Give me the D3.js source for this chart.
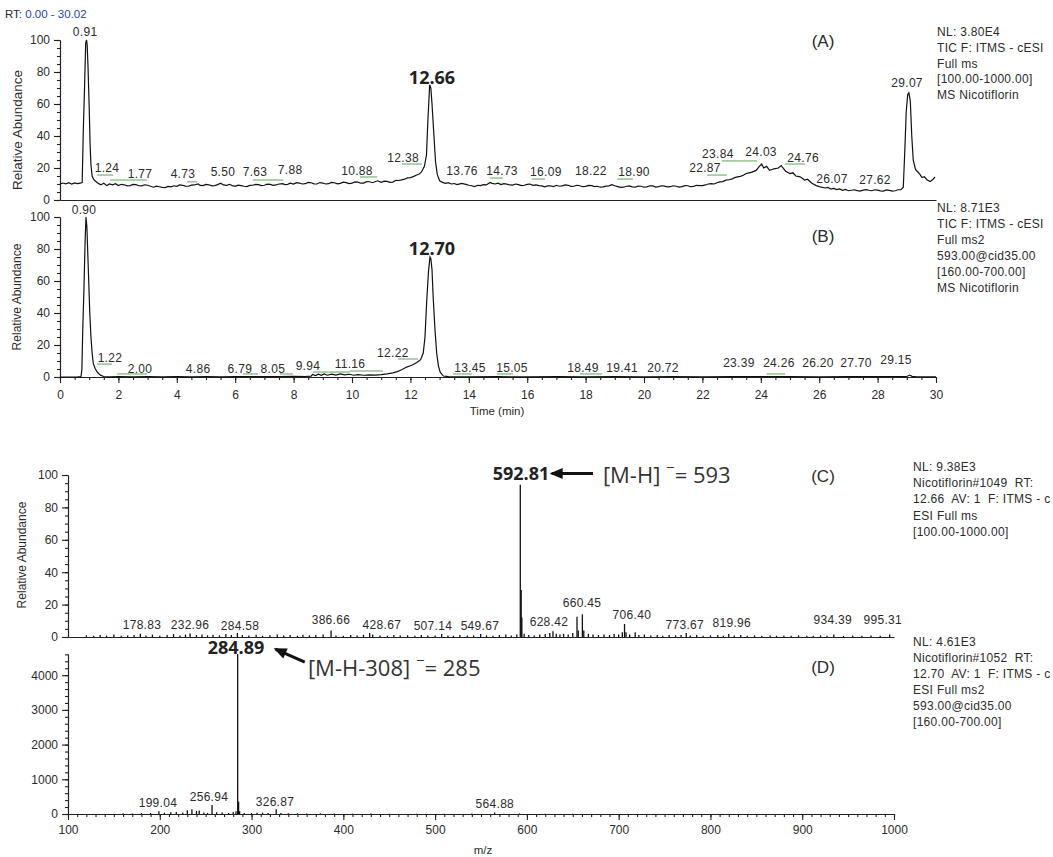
<!DOCTYPE html>
<html><head><meta charset="utf-8">
<script src="https://cdn.jsdelivr.net/npm/d3@7"></script>
<style>
body{margin:0;background:#fff}
svg{display:block}
text{font-family:"Liberation Sans",Arial,sans-serif;fill:#2b2b2b}
.bold{font-family:"Open Sans",sans-serif;font-weight:bold;fill:#222}
.ann{font-family:"Open Sans",sans-serif;fill:#333}
</style>
</head><body>
<svg id="chart" width="1053" height="857"></svg>
<script>
// ---------------- DATA ----------------
// (A) TIC chromatogram, full MS : [time (min), relative abundance]
const traceA = [[0,10],[0.1,10.6],[0.2,10.1],[0.3,10.8],[0.4,10],[0.5,10.7],[0.6,10.2],[0.7,10.5],[0.76,11],[0.8,45],[0.84,70],[0.88,98],[0.91,100],[0.93,97],[0.96,83],[1.0,58],[1.03,35],[1.06,22],[1.1,15],[1.15,13],[1.2,12],[1.3,10.5],[1.4,9.5],[1.5,10.5],[1.6,9],[1.7,10],[1.8,9.5],[1.9,10.2],[2.0,9],[2.1,9.8],[2.2,9.5],[2.3,8.8],[2.4,9],[2.5,9.7],[2.6,9.6],[2.7,8.9],[2.8,8.8],[2.9,9.5],[3.0,9.2],[3.1,8.6],[3.2,8],[3.3,8.7],[3.4,8.3],[3.5,7.9],[3.6,7.8],[3.7,8.5],[3.8,8.2],[3.9,8.9],[4.0,8.5],[4.1,9.4],[4.2,9.2],[4.3,8.7],[4.4,8.6],[4.5,9.3],[4.6,9.4],[4.73,10],[4.8,9.1],[4.9,9],[5.0,9.7],[5.1,9.5],[5.2,8.8],[5.3,9],[5.4,9.6],[5.5,10.5],[5.6,9.4],[5.7,9.1],[5.8,9.8],[5.9,9.0],[6.0,8.5],[6.1,9.3],[6.2,9],[6.3,8.6],[6.4,8.4],[6.5,9.1],[6.6,9.2],[6.7,9.8],[6.8,9.6],[6.9,9.0],[7.0,9.2],[7.1,9.9],[7.2,9.8],[7.3,9.2],[7.4,9.4],[7.5,10.0],[7.63,10.2],[7.7,9.6],[7.8,9.8],[7.88,10.5],[8.0,10],[8.1,10.8],[8.2,10.6],[8.3,10.0],[8.4,10.2],[8.5,11.0],[8.6,10.8],[8.7,10.1],[8.8,10],[8.9,10.9],[9.0,10.6],[9.1,10.0],[9.2,10.2],[9.3,11.0],[9.4,10.8],[9.5,10.1],[9.6,10.4],[9.7,11.2],[9.8,10.9],[9.9,10.3],[10.0,10.5],[10.1,11.3],[10.2,11.2],[10.3,10.5],[10.4,10.6],[10.5,11.5],[10.6,11.4],[10.7,10.8],[10.88,12],[11.0,11],[11.1,11.8],[11.2,11.6],[11.3,11.0],[11.4,11.2],[11.5,12.3],[11.6,12.2],[11.7,12.6],[11.8,13],[11.9,13.8],[12.0,14],[12.1,14.6],[12.2,15.5],[12.3,16.2],[12.38,17.5],[12.48,21],[12.55,28],[12.6,50],[12.66,72],[12.7,70],[12.74,60],[12.8,42],[12.86,24],[12.92,16],[13.0,12],[13.1,11],[13.2,10.4],[13.3,10.8],[13.4,10],[13.5,10.3],[13.6,9.6],[13.76,10.4],[13.9,9.8],[14.0,9.2],[14.1,8.9],[14.2,8.4],[14.3,9.2],[14.4,9],[14.5,9.6],[14.6,9.4],[14.73,11],[14.8,10.4],[14.9,10],[15.0,10.5],[15.1,9.6],[15.2,10.2],[15.3,9.9],[15.4,9.4],[15.5,9.3],[15.6,10.0],[15.7,9.6],[15.8,9.0],[15.9,9.2],[16.0,9.8],[16.09,10],[16.2,9.2],[16.3,9.4],[16.4,9.0],[16.5,8.8],[16.6,8.2],[16.7,8.8],[16.8,8.9],[16.9,8.4],[17.0,9.2],[17.1,8.6],[17.2,8.8],[17.3,9.4],[17.4,9.2],[17.5,8.5],[17.6,8.6],[17.7,9.2],[17.8,8.9],[17.9,8.3],[18.0,8.5],[18.1,9.1],[18.22,9],[18.3,8.4],[18.4,8.6],[18.5,8.0],[18.6,8.2],[18.7,8.7],[18.8,8.8],[18.9,9.6],[19.0,8.9],[19.1,8.4],[19.2,7.9],[19.3,8],[19.4,8.6],[19.5,8.8],[19.6,8.2],[19.7,8],[19.8,8.7],[19.9,8.6],[20.0,8.0],[20.1,8.2],[20.2,8.9],[20.3,8.8],[20.4,8.1],[20.5,8.4],[20.6,8.9],[20.7,8.7],[20.8,8.2],[20.9,8.3],[21.0,8.9],[21.1,8.6],[21.2,8.1],[21.3,8.4],[21.4,9.0],[21.5,8.9],[21.6,8.3],[21.7,8.5],[21.8,9.2],[21.9,9],[22.0,9.0],[22.1,9.4],[22.2,10.0],[22.3,10.2],[22.4,10.0],[22.5,10.8],[22.6,11.3],[22.7,11.5],[22.8,12.4],[22.87,12.5],[22.95,12.8],[23.0,13],[23.1,14.0],[23.2,14.5],[23.3,14.8],[23.4,15.5],[23.5,16.6],[23.6,17],[23.7,17.4],[23.84,18.5],[23.95,21],[24.03,22.5],[24.1,20],[24.2,21],[24.3,18.5],[24.45,19.5],[24.6,20],[24.7,21.5],[24.76,20],[24.85,18],[25.0,16.5],[25.1,17],[25.2,15],[25.35,14.5],[25.5,12.5],[25.6,13],[25.75,10.5],[25.9,9],[26.07,8],[26.2,7.5],[26.3,7.9],[26.4,6.8],[26.5,7.2],[26.6,6.5],[26.7,6.9],[26.8,6],[26.9,6.6],[27.0,5.8],[27.1,6.1],[27.2,6.4],[27.3,5.9],[27.4,5.6],[27.5,6.2],[27.62,6.5],[27.7,6.1],[27.8,5.8],[27.9,6.4],[28.0,6.2],[28.1,5.7],[28.2,5.6],[28.3,6.3],[28.4,6],[28.5,5.5],[28.6,5.8],[28.7,6.4],[28.8,6.5],[28.88,8],[28.93,30],[28.98,55],[29.03,66],[29.07,67],[29.12,62],[29.17,40],[29.22,25],[29.3,19],[29.38,17.5],[29.45,16],[29.52,14],[29.6,14.5],[29.7,12.5],[29.8,11.5],[29.9,13],[29.97,14.5]];

// (B) TIC chromatogram, MS2 593 -> : [time (min), relative abundance]
const traceB = [[0,0],[0.3,0],[0.6,0.1],[0.72,0.3],[0.75,5],[0.78,30],[0.82,55],[0.86,85],[0.89,100],[0.92,94],[0.95,78],[0.98,62],[1.02,40],[1.06,25],[1.1,15],[1.14,8.5],[1.2,5.5],[1.26,3.5],[1.32,2.2],[1.4,1],[1.5,0.3],[1.7,0.1],[2.0,0.2],[2.5,0.1],[3.0,0.2],[3.5,0.1],[4.0,0.2],[4.5,0.1],[5.0,0.3],[5.5,0.1],[6.0,0.2],[6.5,0.3],[7.0,0.2],[7.5,0.3],[8.0,0.4],[8.4,0.3],[8.6,0.5],[8.65,1.6],[8.75,0.9],[8.85,1.8],[8.95,1.0],[9.05,1.9],[9.15,1.1],[9.3,1.8],[9.45,1.2],[9.6,1.9],[9.75,1.3],[9.9,1.7],[10.05,1.1],[10.2,1.5],[10.4,1.1],[10.6,1.3],[10.8,1.2],[11.0,1.5],[11.2,2.0],[11.4,2.6],[11.55,3.4],[11.7,4.5],[11.87,6.2],[12.0,7.0],[12.1,7.8],[12.22,9.0],[12.35,10.8],[12.44,15],[12.5,25],[12.56,48],[12.62,66],[12.67,75],[12.7,74],[12.74,67],[12.78,50],[12.84,30],[12.9,15],[12.96,7],[13.02,3],[13.13,0.6],[13.3,0.2],[14,0.1],[15,0.2],[16,0.1],[17,0.2],[18,0.1],[19,0.2],[20,0.1],[21,0.2],[22,0.1],[23,0.2],[24,0.3],[25,0.2],[26,0.1],[27,0.2],[28,0.2],[29,0.3],[29.1,1.2],[29.18,0.4],[29.3,0.2],[30,0.1]];

// peak labels: [text, label centre time, label level (rel. abundance)]
const labelsA = [["0.91",0.86,102.5],["1.24",1.61,17.5],["1.77",2.74,13.75],["4.73",4.21,13.75],["5.50",5.58,15],["7.63",6.68,15],["7.88",7.88,16.25],["10.88",10.17,15.6],["12.38",11.75,23.75],["13.76",13.77,15.6],["14.73",15.14,15.6],["16.09",16.64,15],["18.22",18.18,15.6],["18.90",19.66,15],["22.87",22.09,17.5],["23.84",22.53,26.25],["24.03",24.01,27.5],["24.76",25.45,23.75],["26.07",26.44,10.6],["27.62",27.91,10],["29.07",29.01,70.6]];
const labelsB = [["0.90",0.82,101.9],["1.22",1.71,9.4],["2.00",2.74,2.5],["4.86",4.73,2.5],["6.79",6.16,2.5],["8.05",7.29,2.5],["9.94",8.49,4.4],["11.16",9.93,5.6],["12.22",11.4,12.5],["13.45",14.04,3.1],["15.05",15.48,3.1],["18.49",17.91,3.1],["19.41",19.25,3.1],["20.72",20.65,3.1],["23.39",23.25,6.25],["24.26",24.62,6.25],["26.20",25.96,6.25],["27.70",27.26,6.25],["29.15",28.63,8.1]];
const mainA = ["12.66",12.74,72.5];
const mainB = ["12.70",12.74,76.25];

// green peak markers: [start time, end time, level]
const marksA = [[1.27,1.82,15.6],[1.71,2.98,12.5],[4.35,4.69,11.3],[6.61,7.64,12.5],[10.27,10.86,14.4],[11.71,12.4,22.5],[14.73,15.17,13.75],[16.16,16.61,13.1],[19.08,19.62,13.1],[22.16,22.84,15.6],[22.67,23.87,24.4],[24.83,25.51,22.5]];
const marksB = [[1.27,1.78,8.1],[1.95,2.98,1.9],[6.27,6.78,1.9],[7.53,7.98,1.9],[8.66,9.93,3.1],[9.93,11.06,3.75],[11.58,12.26,11.25],[13.46,14.11,1.9],[14.97,15.51,1.9],[17.8,18.56,1.9],[24.2,24.83,1.9]];

// (C) full MS spectrum at 12.66 min : [m/z, relative abundance]
const specC = [[120,1],[128,0.8],[135,1.2],[142,0.8],[150,1.5],[158,0.7],[165,1],[172,1.3],[178.83,2],[185,1],[192,1.5],[200,0.8],[208,1.2],[215,1.8],[222,1],[228,1.5],[232.96,2.2],[240,1.2],[246,1.6],[252,1],[258,1.4],[265,1],[272,1.8],[278,1.2],[284.58,2.5],[290,1.2],[297,1],[305,1.4],[312,0.8],[320,1.1],[328,1.5],[335,0.9],[342,1.2],[350,0.8],[356,1.4],[363,1],[370,1.2],[378,1.5],[386.66,4],[392,1],[400,0.8],[408,1.2],[415,0.9],[422,1.4],[428.67,2.5],[432,1.5],[440,1],[448,0.8],[455,1.2],[462,0.9],[470,1.1],[478,0.8],[485,1.3],[492,0.9],[500,1],[507.14,1.8],[514,1],[520,0.8],[527,1.2],[535,0.9],[542,1],[549.67,1.8],[556,1],[563,0.8],[570,1.2],[577,1.5],[583,0.9],[589,1.5],[592.81,94],[593.8,29],[594.5,12],[597,2],[602,1.2],[608,1],[614,1.5],[620,1.8],[625,2.5],[628.42,3.5],[632,2],[636,1.5],[640,2],[645,1.5],[650,2.5],[654.6,12.5],[656,4],[660.45,14],[662,4],[667,2],[672,1.5],[678,1.2],[684,1.5],[690,1.2],[695,1.8],[700,1.5],[704,3],[706.4,8],[708,3],[712,1.5],[718,3],[722,1.2],[728,1.5],[735,1],[742,1.2],[748,0.8],[755,1.3],[762,1],[768,1.2],[773.67,2.5],[778,1],[785,1.3],[792,0.8],[800,1],[808,1.2],[814,0.8],[819.96,1.8],[826,0.9],[833,1.2],[840,0.8],[848,1],[856,0.7],[865,1],[872,0.8],[880,0.9],[888,0.7],[896,1],[905,0.8],[912,0.7],[920,1],[927,0.8],[934.39,1.5],[945,0.7],[955,1],[965,0.8],[975,1],[985,0.7],[995.31,1.5]];
const labelsC = [["178.83",180.6,4.9],["232.96",232.9,4.9],["284.58",287.4,4.3],["386.66",386.5,8],["428.67",442,4.9],["507.14",497.6,4.3],["549.67",548.8,4.3],["628.42",624,6.8],["660.45",660,18.5],["706.40",714.4,11.1],["773.67",772,4.9],["819.96",823.3,6.2],["934.39",933.3,8],["995.31",987.8,8]];
const mainC = ["592.81",593.5,97];

// (D) MS2 spectrum of 593 at 12.70 min : [m/z, intensity]
const specD = [[160,20],[170,15],[180,25],[190,30],[199.04,80],[205,40],[212,50],[218,60],[225,45],[230,110],[235,140],[240,90],[243,100],[248,40],[252,30],[256.94,260],[262,50],[268,40],[275,30],[280,60],[283,80],[284.89,4610],[285.9,355],[287,80],[292,30],[300,25],[306,35],[312,40],[318,30],[326.87,140],[332,30],[340,25],[350,20],[360,15],[375,20],[390,15],[410,10],[430,12],[450,10],[480,8],[510,10],[540,12],[564.88,40],[575,10],[592,15],[620,8],[650,6]];
const labelsD = [["199.04",198,202],["256.94",253.6,375],["326.87",325.5,230],["564.88",565.1,173]];
const mainD = ["284.89",283,4610];

// tick values
const relTicks = [0,20,40,60,80,100];
const timeTicks = [0,2,4,6,8,10,12,14,16,18,20,22,24,26,28,30];
const mzTicks = [100,200,300,400,500,600,700,800,900,1000];
const intTicks = [0,1000,2000,3000,4000];

// header texts
const infoA = ["NL: 3.80E4","TIC F: ITMS - cESI","Full ms","[100.00-1000.00]","MS Nicotiflorin"];
const infoB = ["NL: 8.71E3","TIC F: ITMS - cESI","Full ms2","593.00@cid35.00","[160.00-700.00]","MS Nicotiflorin"];
const infoC = ["NL: 9.38E3","Nicotiflorin#1049  RT:","12.66  AV: 1  F: ITMS - c","ESI Full ms","[100.00-1000.00]"];
const infoD = ["NL: 4.61E3","Nicotiflorin#1052  RT:","12.70  AV: 1  F: ITMS - c","ESI Full ms2","593.00@cid35.00","[160.00-700.00]"];

// ---------------- DRAW ----------------
const svg = d3.select("#chart");
const xT = d3.scaleLinear([0,30],[60,936]);
const yA = d3.scaleLinear([0,100],[200,40]);
const yB = d3.scaleLinear([0,100],[377,217]);
const xM = d3.scaleLinear([100,1000],[68,894]);
const yC = d3.scaleLinear([0,100],[637,475]);
const yD = d3.scaleLinear([0,4610],[814,654]);
const fmt = d3.format("d");

function styleAxis(g){ g.attr("color","#222").attr("font-size",12).attr("font-family",null);
  g.selectAll("text").attr("fill","#2b2b2b"); g.selectAll("line,path").attr("stroke-width",1.1); }

function yAxis(scale, x, major, minor){
  const g1 = svg.append("g").attr("transform",`translate(${x},0)`)
    .call(d3.axisLeft(scale).tickValues(minor).tickSize(3).tickFormat("").tickSizeOuter(0));
  styleAxis(g1);
  const g2 = svg.append("g").attr("transform",`translate(${x},0)`)
    .call(d3.axisLeft(scale).tickValues(major).tickSize(6).tickPadding(4).tickFormat(fmt).tickSizeOuter(0));
  styleAxis(g2);
}
function xAxis(scale, y, major, minor, pad){
  if(minor){ const g1 = svg.append("g").attr("transform",`translate(0,${y})`)
    .call(d3.axisBottom(scale).tickValues(minor).tickSize(3).tickFormat("").tickSizeOuter(0)); styleAxis(g1); }
  const g2 = svg.append("g").attr("transform",`translate(0,${y})`)
    .call(d3.axisBottom(scale).tickValues(major).tickSize(major.length?6:0).tickPadding(pad||5).tickFormat(fmt).tickSizeOuter(0));
  styleAxis(g2);
}

// axes
yAxis(yA, 60, relTicks, d3.range(0,101,5));
xAxis(xT, 200, [], null);
yAxis(yB, 60, relTicks, d3.range(0,101,5));
xAxis(xT, 377, timeTicks, d3.range(0,30.01,0.5), 7);
yAxis(yC, 68, relTicks, d3.range(0,101,5));
xAxis(xM, 637, [], null);
yAxis(yD, 68, intTicks, d3.range(0,4601,200));
xAxis(xM, 814, mzTicks, d3.range(100,1001,10), 5);

// traces
const lineA = d3.line().x(d=>xT(d[0])).y(d=>yA(d[1]));
const lineB = d3.line().x(d=>xT(d[0])).y(d=>yB(d[1]));
svg.append("path").attr("d",lineA(traceA)).attr("fill","none").attr("stroke","#111").attr("stroke-width",1.2);
svg.append("path").attr("d",lineB(traceB)).attr("fill","none").attr("stroke","#111").attr("stroke-width",1.2);

// green markers
function marks(data, ys){
  svg.append("g").selectAll("line").data(data).join("line")
    .attr("x1",d=>xT(d[0])).attr("x2",d=>xT(d[1])).attr("y1",d=>ys(d[2])).attr("y2",d=>ys(d[2]))
    .attr("stroke","#5aa55a").attr("stroke-width",1);
}
marks(marksA, yA); marks(marksB, yB);

// spectra sticks
function sticks(data, xs, ys, w){
  svg.append("g").selectAll("line").data(data).join("line")
    .attr("x1",d=>xs(d[0])).attr("x2",d=>xs(d[0])).attr("y1",ys(0)).attr("y2",d=>ys(d[1]))
    .attr("stroke","#111").attr("stroke-width",w);
}
sticks(specC, xM, yC, 1.3);
sticks(specD, xM, yD, 1.3);

// labels
function labels(data, xs, ys){
  svg.append("g").selectAll("text").data(data).join("text")
    .attr("x",d=>xs(d[1])).attr("y",d=>ys(d[2])).attr("text-anchor","middle")
    .attr("font-size",12).attr("letter-spacing",0.3).text(d=>d[0]);
}
labels(labelsA, xT, yA); labels(labelsB, xT, yB); labels(labelsC, xM, yC); labels(labelsD, xM, yD);
function mainLabel(d, xs, ys){
  svg.append("text").attr("class","bold").attr("x",xs(d[1])).attr("y",ys(d[2]))
    .attr("text-anchor","middle").attr("font-size",18).text(d[0]);
}
mainLabel(mainA, xT, yA); mainLabel(mainB, xT, yB); mainLabel(mainC, xM, yC); mainLabel(mainD, xM, yD);

// annotation arrows
function arrow(x1,y1,x2,y2){
  svg.append("line").attr("x1",x1).attr("y1",y1).attr("x2",x2).attr("y2",y2)
    .attr("stroke","#111").attr("stroke-width",3);
  const a = Math.atan2(y2-y1,x2-x1), L=11, W=5.5;
  const bx = x2 - L*Math.cos(a), by = y2 - L*Math.sin(a);
  const tip = [x2+2*Math.cos(a), y2+2*Math.sin(a)];
  svg.append("path").attr("d",`M${tip[0]},${tip[1]}L${bx - W*Math.sin(a)},${by + W*Math.cos(a)}L${bx + W*Math.sin(a)},${by - W*Math.cos(a)}Z`).attr("fill","#111");
}
arrow(xM(672), yC(101), xM(627), yC(101));
arrow(xM(358), yD(4379), xM(326), yD(4750));
function annot(x, y, pre, post){
  const t = svg.append("text").attr("class","ann").attr("x",x).attr("y",y).attr("font-size",22).style("white-space","pre");
  t.append("tspan").text(pre);
  t.append("tspan").attr("dy",-10).attr("font-size",15).text("\u2212");
  t.append("tspan").attr("dy",10).text(post);
}
annot(xM(682.8), yC(95), "[M-H] ", "= 593");
annot(xM(361.4), yD(3976), "[M-H-308] ", "= 285");

// panel letters
[["(A)",47],["(B)",242],["(C)",482],["(D)",673]].forEach(d=>{
  svg.append("text").attr("x",823).attr("y",d[1]).attr("text-anchor","middle").attr("font-size",17).attr("fill","#333").text(d[0]);
});

// info blocks
function info(lines, x, y0, dy){
  const t = svg.append("text").attr("font-size",12).attr("letter-spacing",0.3).style("white-space","pre");
  lines.forEach((l,i)=> t.append("tspan").attr("x",x).attr("y",y0+i*dy).text(l));
}
info(infoA, 937, 36, 15.8);
info(infoB, 937, 212, 16);
info(infoC, 913, 471, 16.2);
info(infoD, 913, 646, 16);

// RT header
const rt = svg.append("text").attr("x",5).attr("y",18).attr("font-size",11.5);
rt.append("tspan").text("RT: ");
rt.append("tspan").attr("fill","#2a44a8").text("0.00 - 30.02");

// axis titles
function ytitle(x, y, fs){
  svg.append("text").attr("transform",`translate(${x},${y}) rotate(-90)`).attr("text-anchor","middle")
    .attr("dy","0.35em").attr("font-size",fs).text("Relative Abundance");
}
ytitle(17,130,13.5); ytitle(17,297,12); ytitle(22,555,12);
svg.append("text").attr("x",497).attr("y",415).attr("text-anchor","middle").attr("font-size",11.5).text("Time (min)");
svg.append("text").attr("x",483).attr("y",854).attr("text-anchor","middle").attr("font-size",11.5).text("m/z");
</script>
</body></html>
